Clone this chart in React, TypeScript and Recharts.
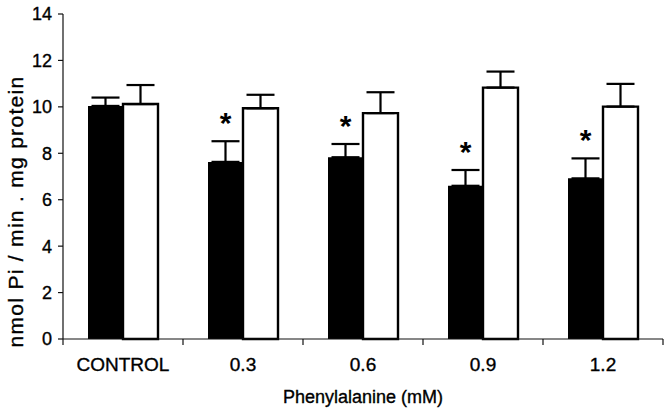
import React from 'react';
import { BarChart, Bar, XAxis, YAxis, ErrorBar, LabelList } from 'recharts';

const categories = ['CONTROL', '0.3', '0.6', '0.9', '1.2'];
const blackValues = [10.04, 7.63, 7.83, 6.6, 6.92];
const blackErrors = [0.36, 0.89, 0.57, 0.68, 0.86];
const whiteValues = [10.12, 9.94, 9.73, 10.83, 10.01];
const whiteErrors = [0.82, 0.58, 0.9, 0.69, 0.98];
const significant = [false, true, true, true, true];
const yTicks = [0, 2, 4, 6, 8, 10, 12, 14];

const FONT = '"Liberation Sans", Arial, Helvetica, sans-serif';
const INK = '#111';

const data = categories.map((name, i) => ({
  name,
  black: blackValues[i],
  blackErr: [0, blackErrors[i]],
  white: whiteValues[i],
  whiteErr: [0, whiteErrors[i]],
}));

const CategoryTick = (props: any) => {
  const { x, y, payload, index } = props;
  const half = payload?.offset ?? 60;
  return (
    <g>
      <line x1={x + half} y1={y} x2={x + half} y2={y + 6} stroke={INK} strokeWidth={1.2} />
      {index === 0 && <line x1={x - half} y1={y} x2={x - half} y2={y + 6} stroke={INK} strokeWidth={1.2} />}
      <text x={x} y={y + 32} textAnchor="middle" fontSize={19} fontFamily={FONT} fill="#000" stroke="#000" strokeWidth={0.35}>
        {payload.value}
      </text>
    </g>
  );
};

// asterisk above the error bar of the black bar
const Star = (props: any) => {
  const { x, y, width, height, value, index } = props;
  if (!significant[index] || !value) return null;
  const errPx = (blackErrors[index] * height) / value;
  return (
    <text x={x + width / 2} y={y - errPx - 8} textAnchor="middle" fontSize={30} fontWeight="bold" fontFamily={FONT} fill="#000">
      *
    </text>
  );
};

const YLabel = (props: any) => {
  const { viewBox } = props;
  const cy = viewBox.y + viewBox.height / 2 + 35;
  return (
    <text x={15} y={cy} transform={`rotate(-90, 15, ${cy})`} textAnchor="middle" dominantBaseline="central"
      fontSize={21} letterSpacing={1.3} fontFamily={FONT} fill="#000" stroke="#000" strokeWidth={0.35}>
      nmol Pi / min . mg protein
    </text>
  );
};

const XLabel = (props: any) => {
  const { viewBox } = props;
  return (
    <text x={viewBox.x + viewBox.width / 2} y={viewBox.y + 64} textAnchor="middle" fontSize={18} fontFamily={FONT}
      fill="#000" stroke="#000" strokeWidth={0.35}>
      Phenylalanine (mM)
    </text>
  );
};

export default function App() {
  return (
    <div style={{ position: 'absolute', left: 0, top: 0, width: 668, height: 412, background: '#fff' }}>
      <BarChart
        width={668}
        height={412}
        data={data}
        margin={{ top: 14, right: 5, left: 0, bottom: 0 }}
        barCategoryGap={25}
        barGap={0}
      >
        <XAxis
          dataKey="name"
          height={73}
          tickLine={false}
          tickSize={0}
          tickMargin={0}
          axisLine={{ stroke: INK, strokeWidth: 1.2 }}
          tick={<CategoryTick />}
          interval={0}
          label={<XLabel />}
        />
        <YAxis
          width={63}
          domain={[0, 14]}
          ticks={yTicks}
          interval={0}
          tickSize={5}
          tickMargin={6}
          axisLine={{ stroke: INK, strokeWidth: 1.2 }}
          tickLine={{ stroke: INK, strokeWidth: 1.2 }}
          tick={{ fontSize: 18, fill: '#000', fontFamily: FONT, stroke: '#000', strokeWidth: 0.35 }}
          label={<YLabel />}
        />
        <Bar dataKey="black" fill="#000" isAnimationActive={false}>
          <ErrorBar dataKey="blackErr" width={14} stroke="#000" strokeWidth={2.2} direction="y" />
          <LabelList dataKey="black" content={<Star />} />
        </Bar>
        <Bar dataKey="white" fill="#fff" stroke="#000" strokeWidth={2.4} isAnimationActive={false}>
          <ErrorBar dataKey="whiteErr" width={14} stroke="#000" strokeWidth={2.2} direction="y" />
        </Bar>
      </BarChart>
    </div>
  );
}
